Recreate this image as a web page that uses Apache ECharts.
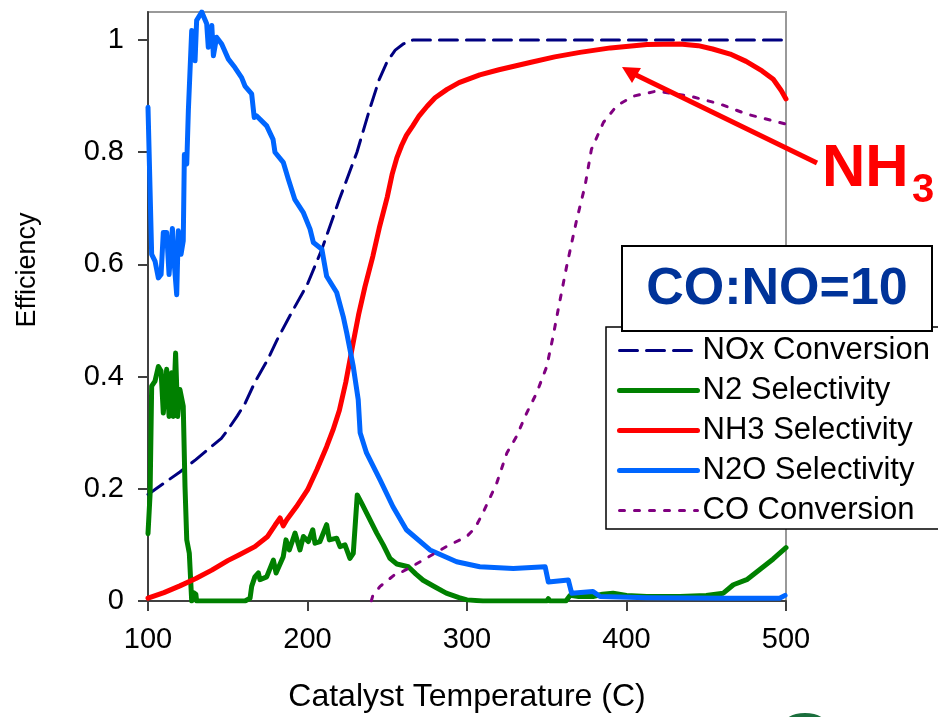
<!DOCTYPE html>
<html>
<head>
<meta charset="utf-8">
<script src="https://cdn.jsdelivr.net/npm/echarts@6/dist/echarts.min.js"></script>
<style>
  html, body { margin: 0; padding: 0; background: #fff; }
  #main { width: 938px; height: 717px; }
</style>
</head>
<body>
<div id="main"></div>
<script>
// temperatures (C) paired with efficiency
var noxConversion = [
  [100,0.19],[110,0.21],[120,0.23],[130,0.252],[140,0.276],[146,0.29],[150,0.305],[156,0.33],
  [161,0.353],[167,0.39],[175,0.43],[181,0.466],[190,0.514],[200,0.565],[209,0.627],[220,0.716],
  [231,0.8],[239,0.877],[245,0.93],[250,0.962],[255,0.982],[260,0.993],[266,1.0],[500,1.0]
];
var n2Selectivity = [
  [100,0.12],[101.3,0.19],[102.3,0.383],[104.4,0.392],[106.5,0.418],[108.2,0.41],[109.6,0.335],
  [111.7,0.413],[113.2,0.329],[114.8,0.407],[115.8,0.329],[117.3,0.442],[118.6,0.329],[120,0.377],
  [122.1,0.347],[123.2,0.204],[124.3,0.109],[125.9,0.085],[127.4,0],[128.5,0.015],[130,0.012],[130.5,0],
  [160.8,0],[164,0.005],[165,0.026],[167,0.043],[169.2,0.05],[170.2,0.038],[174.4,0.043],[178.6,0.073],
  [180.3,0.05],[184.8,0.079],[186.5,0.109],[188.6,0.091],[192.2,0.121],[195.3,0.091],[197.4,0.115],
  [200.5,0.106],[203.3,0.127],[204.7,0.103],[207.8,0.106],[212,0.136],[213.7,0.109],[218.3,0.112],
  [220.4,0.097],[223.5,0.1],[226.6,0.076],[228.7,0.085],[231.2,0.189],[234,0.174],[238.1,0.151],
  [243.4,0.121],[247.5,0.1],[251.7,0.076],[256,0.066],[263.2,0.061],[268,0.048],[272.5,0.037],
  [280,0.025],[287,0.014],[295,0.006],[300,0.002],[310,0],[350,0],[351,0.004],[352,0],[362,0],
  [364.6,0.01],[370,0.008],[379,0.008],[385,0.012],[391.6,0.014],[400,0.01],[412.7,0.008],
  [433.5,0.008],[450,0.01],[460.7,0.014],[467,0.029],[475.4,0.038],[485.8,0.061],[492,0.075],[500,0.095]
];
var nh3Selectivity = [
  [100,0.005],[110,0.015],[120,0.027],[130,0.04],[140,0.055],[150,0.072],[157,0.082],[167,0.097],
  [175,0.115],[179.6,0.135],[182.8,0.148],[184.8,0.134],[187,0.145],[193,0.168],[200,0.198],
  [206,0.235],[212,0.275],[216,0.305],[220,0.34],[224,0.39],[228.6,0.46],[232,0.51],[236,0.56],
  [241,0.615],[245,0.665],[250,0.72],[253,0.76],[256,0.79],[259,0.812],[262,0.83],[266,0.847],
  [270,0.865],[275,0.882],[280,0.897],[287.5,0.912],[295,0.924],[308,0.938],[320,0.947],
  [339.5,0.96],[355,0.97],[370.8,0.978],[390,0.986],[412.8,0.992],[433.5,0.993],[445,0.99],
  [454,0.984],[465,0.975],[475,0.962],[485,0.945],[492,0.93],[497,0.91],[500,0.895]
];
var n2oSelectivity = [
  [100,0.88],[102.3,0.618],[104.4,0.606],[106.5,0.576],[108.2,0.582],[109.6,0.657],[111.7,0.657],
  [113.2,0.582],[115.3,0.664],[116.5,0.6],[118,0.546],[119,0.66],[120.7,0.618],[122.1,0.642],
  [122.8,0.796],[124.3,0.779],[125.3,0.874],[127.4,1.017],[129.5,0.963],[130.5,1.035],[133.7,1.05],
  [136.8,1.029],[137.8,0.987],[140,1.026],[141,0.972],[143,1.005],[144,1.005],[146.2,0.993],
  [150.4,0.966],[154.5,0.951],[158.7,0.933],[160.8,0.918],[165,0.904],[166.6,0.862],[168,0.865],
  [174.4,0.847],[178.4,0.823],[179.6,0.8],[184.8,0.782],[188,0.752],[192,0.716],[197.3,0.693],
  [201.6,0.663],[203.7,0.639],[209,0.627],[212,0.579],[218.3,0.55],[222.4,0.507],[224.6,0.478],
  [228.7,0.418],[231.8,0.359],[233,0.3],[237,0.264],[245.5,0.216],[253.6,0.168],[262,0.127],
  [276.8,0.091],[293.5,0.07],[308,0.061],[329,0.058],[349,0.061],[351,0.034],[363.5,0.0375],
  [365.6,0.014],[379,0.017],[383.4,0.008],[412.7,0.006],[462.8,0.005],[496,0.005],[499.4,0.01]
];
var coConversion = [
  [240,0],[241,0.01],[245.5,0.026],[256,0.05],[258,0.05],[272.6,0.073],[287,0.097],[299.8,0.115],
  [305,0.13],[310,0.157],[318.6,0.21],[325,0.264],[331,0.293],[337.4,0.335],[343.7,0.371],
  [350,0.418],[354,0.472],[357.2,0.52],[362.5,0.597],[368.8,0.68],[374,0.74],[378,0.805],
  [385.5,0.853],[393.9,0.883],[404.3,0.9],[418.9,0.909],[439.8,0.9],[458.6,0.886],[475.4,0.868],
  [496,0.853],[500,0.85]
];
var yTicks = [0, 0.2, 0.4, 0.6, 0.8, 1];
var seriesNames = ["NOx Conversion", "N2 Selectivity", "NH3 Selectivity", "N2O Selectivity", "CO Conversion"];
var seriesColors = ["#000080", "#008000", "#ff0000", "#0066ff", "#800080"];
var seriesWidths = [3, 5, 5, 5, 3];
var seriesDash = [[18, 9], "solid", "solid", "solid", [5, 10]];
var seriesData = [noxConversion, n2Selectivity, nh3Selectivity, n2oSelectivity, coConversion];

var font = "'Liberation Sans', Arial, sans-serif";
var chart = echarts.init(document.getElementById("main"), null, { renderer: "canvas" });

var series = seriesNames.map(function (name, i) {
  return {
    name: name,
    type: "line",
    data: seriesData[i],
    showSymbol: false,
    symbol: "none",
    smooth: false,
    animation: false,
    lineStyle: { color: seriesColors[i], width: seriesWidths[i], type: seriesDash[i], cap: "round", join: "round" },
    itemStyle: { color: seriesColors[i] }
  };
});

var legendData = seriesNames.map(function (name, i) {
  return {
    name: name,
    lineStyle: { color: seriesColors[i], width: seriesWidths[i], type: seriesDash[i] }
  };
});

chart.setOption({
  animation: false,
  backgroundColor: "#fff",
  grid: {
    left: 148, right: 152, top: 12, bottom: 116,
    show: true, borderColor: "#999", borderWidth: 2,
    outerBoundsMode: "none"
  },
  xAxis: {
    type: "value",
    min: 100, max: 500, interval: 100,
    name: "Catalyst Temperature (C)",
    nameLocation: "middle",
    nameGap: 80,
    nameTextStyle: { fontFamily: font, fontSize: 32, color: "#000" },
    axisLine: { onZero: false, lineStyle: { color: "#404040", width: 2 } },
    axisTick: { inside: false, length: 10, lineStyle: { color: "#404040", width: 2 } },
    axisLabel: { fontFamily: font, fontSize: 29, color: "#000", margin: 24 },
    splitLine: { show: false }
  },
  yAxis: {
    type: "value",
    min: 0, max: 1.05,
    axisLine: { lineStyle: { color: "#404040", width: 2 } },
    axisTick: { customValues: yTicks, inside: false, length: 10, lineStyle: { color: "#404040", width: 2 } },
    axisLabel: {
      customValues: yTicks, fontFamily: font, fontSize: 29, color: "#000", margin: 24,
      formatter: function (v) { return String(+v.toFixed(1)); }
    },
    splitLine: { show: false }
  },
  legend: {
    orient: "vertical",
    left: 612, top: 330,
    z: 10,
    selectedMode: false,
    itemWidth: 78, itemHeight: 14, itemGap: 9,
    itemStyle: { opacity: 0 },
    data: legendData,
    textStyle: { fontFamily: font, fontSize: 31, color: "#000", lineHeight: 31 }
  },
  series: series,
  graphic: [
    {
      type: "rect", z: 5,
      shape: { x: 606, y: 327, width: 345, height: 202 },
      style: { fill: "#fff", stroke: "#000", lineWidth: 1.5 }
    },
    {
      type: "rect", z: 11,
      shape: { x: 622, y: 246, width: 310, height: 85 },
      style: { fill: "#fff", stroke: "#000", lineWidth: 2 }
    },
    {
      type: "text", z: 12, x: 777, y: 290,
      style: { text: "CO:NO=10", font: "bold 52px " + font, fill: "#003399", align: "center", verticalAlign: "middle" }
    },
    {
      type: "text", x: 28, y: 270, rotation: Math.PI / 2, z: 12,
      style: { text: "Efficiency", font: "27px " + font, fill: "#000", align: "center", verticalAlign: "middle" }
    },
    {
      type: "line", z: 12,
      shape: { x1: 817, y1: 163, x2: 634, y2: 74 },
      style: { stroke: "#ff0000", lineWidth: 5 }
    },
    {
      type: "polygon", z: 12,
      shape: { points: [[622, 67], [641, 68], [632, 83]] },
      style: { fill: "#ff0000" }
    },
    {
      type: "text", z: 12, x: 822, y: 169,
      style: { text: "NH", font: "bold 60px " + font, fill: "#ff0000", align: "left", verticalAlign: "middle" }
    },
    {
      type: "text", z: 12, x: 912, y: 191,
      style: { text: "3", font: "bold 40px " + font, fill: "#ff0000", align: "left", verticalAlign: "middle" }
    },
    {
      type: "ellipse", z: 12,
      shape: { cx: 805, cy: 724, rx: 21, ry: 11 },
      style: { fill: "#1a6e3c" }
    }
  ]
});
</script>
</body>
</html>
